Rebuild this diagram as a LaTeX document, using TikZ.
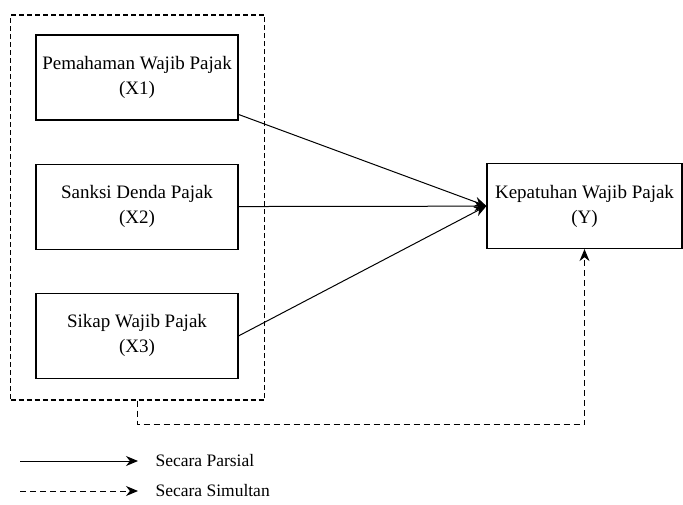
\documentclass[tikz,border=0pt]{standalone}
\usepackage{fontspec}
\setmainfont{Liberation Serif}
\usetikzlibrary{arrows.meta,positioning}

\begin{document}
\begin{tikzpicture}
    [x=1pt, y=-1pt,
    node distance=43pt,
    >={Stealth[length=12pt,width=10pt]},
    var/.style={
      rectangle,
      draw=black,
      line width=1.2pt,
      minimum width=202pt,
      minimum height=85pt,
      align=center,
      inner sep=0pt,
      font=\fontsize{19}{25}\selectfont},
    group/.style={
      rectangle,
      draw=black,
      line width=1.2pt,
      dash pattern=on 5pt off 3pt,
      minimum width=254pt,
      minimum height=385pt},
    legend/.style={anchor=west, font=\fontsize{17.5}{22}\selectfont},
    partial/.style={->, line width=1pt},
    simul/.style={->, line width=1pt, dash pattern=on 6pt off 4pt}
    ]
    \useasboundingbox (0,0) rectangle (683,504);
    \node (grp) [group] at (137.5,207.5) {};
    \node (x1) [var] at (137,77.5) {Pemahaman Wajib Pajak\\(X1)};
    \node (x2) [below=of x1] [var] {Sanksi Denda Pajak\\(X2)};
    \node (x3) [below=of x2] [var] {Sikap Wajib Pajak\\(X3)};
    \node (y) [var, minimum width=195pt] at (584.5,206) {Kepatuhan Wajib Pajak\\(Y)};
    \path[partial]
      (x1.-20) edge (y.west)
      (x2) edge (y)
      (x3.east) edge (y.west);
    \draw[simul] (grp.south) -- ++(0,24) -| (y.south);
    % keterangan
    \coordinate (p0) at (20,461);
    \coordinate (p1) at (138,461);
    \coordinate (s0) at (20,491);
    \coordinate (s1) at (138,491);
    \node (pl) [legend] at (152,461) {Secara Parsial};
    \node (sl) [legend] at (152,491) {Secara Simultan};
    \draw[partial] (p0) -- (p1);
    \draw[simul] (s0) -- (s1);
\end{tikzpicture}
\end{document}
